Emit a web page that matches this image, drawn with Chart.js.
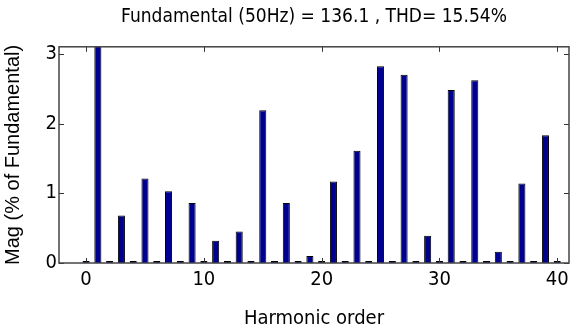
<!DOCTYPE html>
<html>
<head>
<meta charset="utf-8">
<script src="https://cdn.jsdelivr.net/npm/chart.js@4.4.1/dist/chart.umd.min.js"></script>
<style>
  html, body { margin: 0; padding: 0; background: #fff; }
  #wrap { width: 571px; height: 331px; }
</style>
</head>
<body>
<div id="wrap"><canvas id="thdChart" width="571" height="331"></canvas></div>
<script>
// harmonic spectrum, magnitude in % of the fundamental
const harmonics = [0, 1, 2, 3, 4, 5, 6, 7, 8, 9, 10, 11, 12, 13, 14, 15, 16, 17, 18, 19, 20,
    21, 22, 23, 24, 25, 26, 27, 28, 29, 30, 31, 32, 33, 34, 35, 36, 37, 38, 39, 40];
const magnitudes = [0.03, 100, 0.03, 0.68, 0.03, 1.21, 0.03, 1.03, 0.03, 0.86, 0.03,
    0.32, 0.03, 0.45, 0.03, 2.19, 0.03, 0.86, 0.03, 0.10, 0.03,
    1.17, 0.03, 1.61, 0.03, 2.82, 0.03, 2.70, 0.03, 0.39, 0.03,
    2.48, 0.03, 2.62, 0.03, 0.16, 0.03, 1.14, 0.03, 1.83, 0.03];
const xTicks = [0, 10, 20, 30, 40];
const yTicks = [0, 1, 2, 3];

const fundamentalHz = 50;
const fundamentalMag = 136.1;
const thd = 15.54;

const narrow = "'Liberation Sans Narrow', 'DejaVu Sans Condensed', Arial, sans-serif";

// MATLAB-style box with ticks pointing inwards on all four sides
const boxPlugin = {
    id: 'boxPlugin',
    afterDatasetsDraw(chart) {
        const { ctx, chartArea: a, scales } = chart;
        ctx.save();
        ctx.strokeStyle = '#333';
        ctx.lineWidth = 1;
        xTicks.forEach(v => {
            const px = Math.round(scales.x.getPixelForValue(v)) + 0.5;
            ctx.beginPath();
            ctx.moveTo(px, a.bottom); ctx.lineTo(px, a.bottom - 5);
            ctx.moveTo(px, a.top); ctx.lineTo(px, a.top + 5);
            ctx.stroke();
        });
        yTicks.forEach(v => {
            const py = Math.round(scales.y.getPixelForValue(v)) + 0.5;
            ctx.beginPath();
            ctx.moveTo(a.left, py); ctx.lineTo(a.left + 5, py);
            ctx.moveTo(a.right, py); ctx.lineTo(a.right - 5, py);
            ctx.stroke();
        });
        ctx.strokeStyle = '#444';
        ctx.lineWidth = 1.5;
        ctx.strokeRect(a.left, a.top, a.right - a.left, a.bottom - a.top);
        ctx.restore();
    }
};

const ctx = document.getElementById('thdChart').getContext('2d');
new Chart(ctx, {
    type: 'bar',
    data: {
        datasets: [{
            data: harmonics.map((h, i) => ({ x: h, y: magnitudes[i] })),
            backgroundColor: '#000090',
            borderColor: '#000000',
            borderWidth: 1,
            barPercentage: 0.6,
            categoryPercentage: 1.0
        }]
    },
    options: {
        responsive: false,
        animation: false,
        layout: { padding: { left: 0, right: 2, top: 0, bottom: 0 } },
        plugins: {
            legend: { display: false },
            tooltip: { enabled: false },
            title: {
                display: true,
                fullSize: false,
                text: 'Fundamental (' + fundamentalHz + 'Hz) = ' + fundamentalMag + ' , THD= ' + thd + '%',
                color: '#000',
                font: { family: narrow, size: 19, weight: 'normal' },
                padding: { top: 6, bottom: 18 }
            }
        },
        scales: {
            x: {
                type: 'linear',
                min: -2.3,
                max: 41,
                offset: false,
                grid: { display: false },
                border: { display: false },
                afterBuildTicks(scale) { scale.ticks = xTicks.map(v => ({ value: v })); },
                afterFit(scale) { scale.height = 68; },
                ticks: {
                    color: '#000',
                    padding: -3,
                    maxRotation: 0,
                    font: { family: narrow, size: 20 }
                },
                title: {
                    display: true,
                    text: 'Harmonic order',
                    color: '#000',
                    font: { family: narrow, size: 20 },
                    padding: { top: 2, bottom: 0 }
                }
            },
            y: {
                min: 0,
                max: 3.1,
                grid: { display: false },
                border: { display: false },
                afterBuildTicks(scale) { scale.ticks = yTicks.map(v => ({ value: v })); },
                afterFit(scale) { scale.width = 59; },
                ticks: {
                    color: '#000',
                    padding: -6,
                    font: { family: narrow, size: 20 }
                },
                title: {
                    display: true,
                    text: 'Mag (% of Fundamental)',
                    color: '#000',
                    font: { family: "'Liberation Sans', Arial, sans-serif", size: 20 },
                    padding: { top: 1, bottom: 0 }
                }
            }
        }
    },
    plugins: [boxPlugin]
});
</script>
</body>
</html>
